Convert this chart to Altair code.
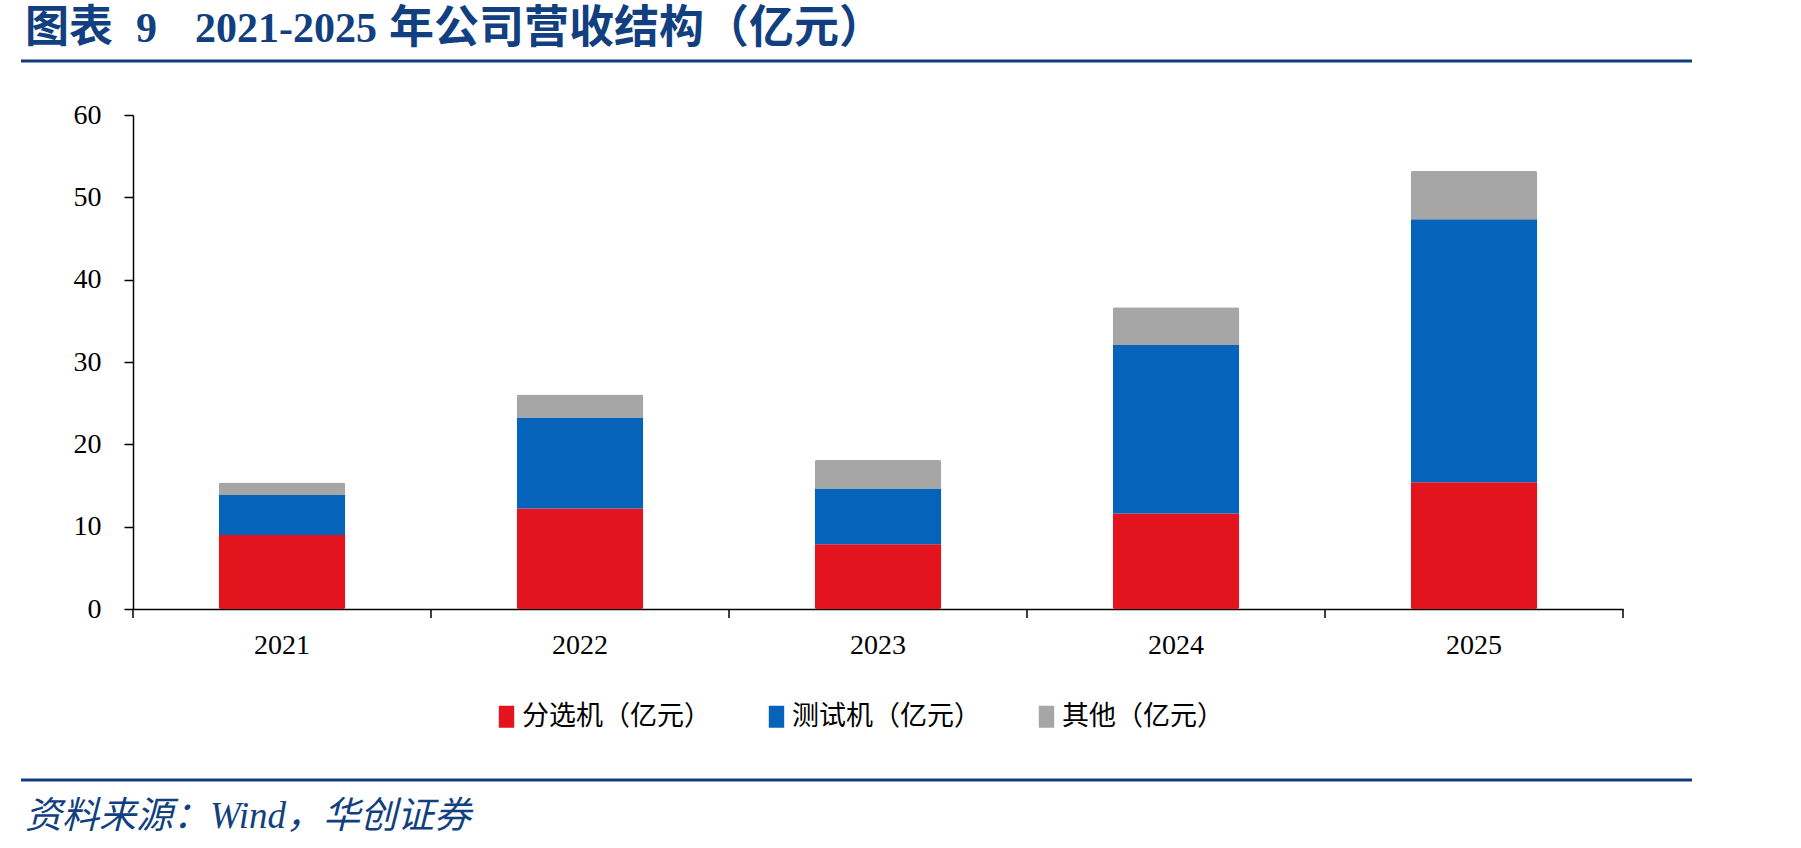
import altair as alt
import pandas as pd

years = ["2021", "2022", "2023", "2024", "2025"]
series = ["分选机（亿元）", "测试机（亿元）", "其他（亿元）"]
sorter = [9.0, 12.2, 7.85, 11.6, 15.4]
tester = [4.85, 11.05, 6.8, 20.45, 31.95]
other = [1.5, 2.8, 3.45, 4.6, 5.85]
colors = ["#E4141E", "#0563BA", "#A6A6A6"]

rows = []
for i, y in enumerate(years):
    for k, (name, vals) in enumerate(zip(series, [sorter, tester, other])):
        rows.append({"year": y, "series": name, "value": vals[i], "rank": k})
df = pd.DataFrame(rows)

W, H = 1490, 494
serif = "Liberation Serif"
navy = "#123F7F"

bars = alt.Chart(df).mark_bar(width={"band": 0.425}, cornerRadius=2).encode(
    x=alt.X("year:N", sort=years, title=None,
            scale=alt.Scale(paddingInner=0, paddingOuter=0),
            axis=alt.Axis(labelAngle=0, ticks=False, tickSize=0, labelPadding=22,
                          labelFont=serif, labelFontSize=28, labelColor="#000",
                          domainColor="#000", domainWidth=1.5)),
    y=alt.Y("value:Q", stack="zero", title=None,
            scale=alt.Scale(domain=[0, 60], nice=False),
            axis=alt.Axis(values=[0, 10, 20, 30, 40, 50, 60], grid=False,
                          tickSize=9, tickColor="#000", tickWidth=1.5,
                          domainColor="#000", domainWidth=1.5,
                          labelPadding=23, labelFont=serif, labelFontSize=28,
                          labelColor="#000")),
    color=alt.Color("series:N", sort=series,
                    scale=alt.Scale(domain=series, range=colors),
                    legend=alt.Legend(title=None, orient="none", direction="horizontal",
                                      legendX=360, legendY=588,
                                      symbolType="M-0.7,-1h1.4v2h-1.4Z",
                                      symbolSize=484, symbolStrokeWidth=0,
                                      labelFont="Noto Sans CJK SC", labelFontSize=27,
                                      labelColor="#000", labelOffset=2,
                                      columnPadding=52, labelLimit=400)),
    order=alt.Order("rank:Q"),
)

tick_df = pd.DataFrame({"year": years})
ticks_start = alt.Chart(tick_df).mark_rule(color="#000", strokeWidth=1.5).encode(
    x=alt.X("year:N", sort=years, bandPosition=0),
    y=alt.value(H), y2=alt.value(H + 9),
)
ticks_end = alt.Chart(tick_df.tail(1)).mark_rule(color="#000", strokeWidth=1.5).encode(
    x=alt.X("year:N", sort=years, bandPosition=1),
    y=alt.value(H), y2=alt.value(H + 9),
)

title_font = f"{serif}, Noto Sans CJK SC"


def title_part(text, x, size):
    return alt.Chart(pd.DataFrame({"t": [text]})).mark_text(
        align="left", baseline="middle", font=title_font, fontSize=size,
        fontWeight="bold", color=navy,
    ).encode(text="t:N", x=alt.value(x), y=alt.value(-86))


title_a = title_part("图表", -108, 44)
title_b = title_part("9", 3, 42)
title_c = title_part("2021-2025", 62, 42)
title_d = title_part("年公司营收结构（亿元）", 256, 45)

source = alt.Chart(pd.DataFrame({"t": ["资料来源：Wind，华创证券"]})).mark_text(
    align="left", baseline="middle", font=title_font, fontSize=37,
    fontStyle="italic", color=navy,
).encode(text="t:N", x=alt.value(-108), y=alt.value(702))

line_top = alt.Chart(pd.DataFrame({"a": [0]})).mark_rule(color="#0E3C7E", strokeWidth=3).encode(
    x=alt.value(-112), x2=alt.value(1559), y=alt.value(-54))
line_bot = alt.Chart(pd.DataFrame({"a": [0]})).mark_rule(color="#0E3C7E", strokeWidth=3).encode(
    x=alt.value(-112), x2=alt.value(1559), y=alt.value(665))

chart = alt.layer(bars, ticks_start, ticks_end, title_a, title_b, title_c, title_d,
                  source, line_top, line_bot).properties(
    width=W, height=H,
    autosize=alt.AutoSizeParams(type="none"),
    padding={"left": 133, "top": 115, "right": 178, "bottom": 239},
).configure(background="white", view=alt.ViewConfig(strokeWidth=0, stroke="transparent"))

chart.save("out.html", embed_options={"renderer": "svg", "actions": False})
